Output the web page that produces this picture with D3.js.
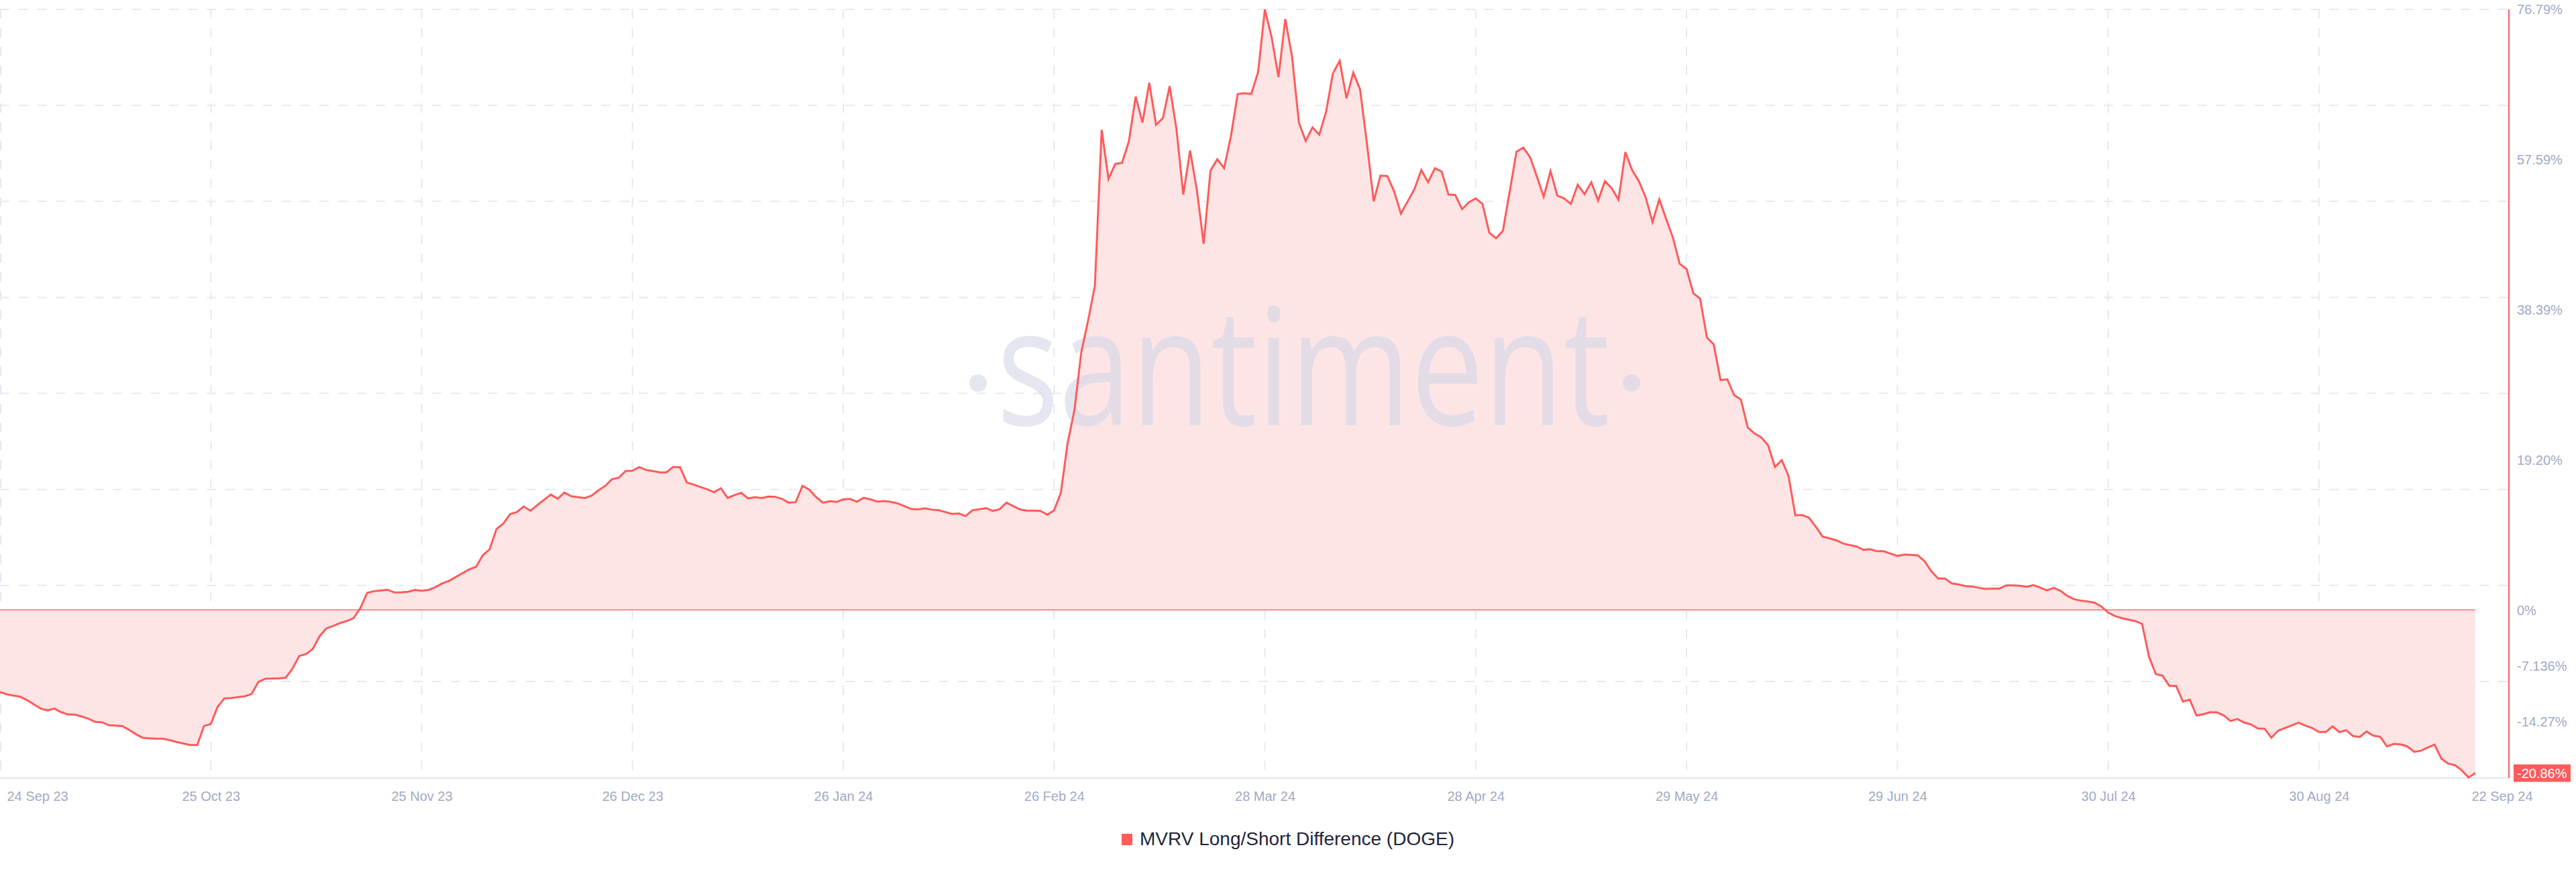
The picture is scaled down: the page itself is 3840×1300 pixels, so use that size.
<!DOCTYPE html>
<html><head><meta charset="utf-8">
<script src="https://cdn.jsdelivr.net/npm/d3@7"></script>
<style>body{margin:0;background:#fff;} svg{display:block;}</style>
</head><body>
<svg id="chart" width="3840" height="1300"></svg>
<script>
// ---------- DATA ----------
const seriesName = "MVRV Long/Short Difference (DOGE)";
const startDate = "2023-09-24";           // first daily point
const values = [
 -10.48,-10.77,-10.94,-11.1,-11.53,-12.09,-12.61,-12.84,-12.61,-13.07,
 -13.37,-13.37,-13.63,-13.89,-14.32,-14.35,-14.75,-14.78,-14.84,-15.34,
 -15.89,-16.35,-16.42,-16.45,-16.45,-16.65,-16.88,-17.08,-17.27,-17.27,
 -14.84,-14.58,-12.38,-11.3,-11.26,-11.13,-11.03,-10.74,-9.2,-8.8,
 -8.77,-8.74,-8.67,-7.52,-5.88,-5.65,-4.99,-3.35,-2.36,-2.04,
 -1.67,-1.41,-1.05,0.26,2.2,2.4,2.5,2.59,2.23,2.27,
 2.33,2.56,2.46,2.56,2.89,3.38,3.71,4.2,4.7,5.19,
 5.52,7.0,7.75,10.34,11.03,12.25,12.51,13.23,12.68,13.4,
 14.09,14.75,14.22,15.01,14.55,14.42,14.32,14.61,15.3,15.86,
 16.72,16.91,17.77,17.8,18.26,17.9,17.77,17.6,17.6,
 18.3,18.24,16.28,16.04,15.71,15.44,15.05,15.56,14.32,14.69,
 14.99,14.26,14.41,14.32,14.5,14.47,14.2,13.72,13.78,15.86,
 15.38,14.44,13.72,13.9,13.81,14.14,14.2,13.84,14.35,14.14,
 13.87,13.93,13.81,13.63,13.27,12.91,12.85,13.0,12.82,12.76,
 12.52,12.28,12.34,12.01,12.76,12.88,13.03,12.67,12.88,13.72,
 13.27,12.85,12.7,12.7,12.67,12.19,12.73,14.99,21.37,25.58,
 32.95,
 37.0,41.4,61.4,55.1,57.03,57.17,59.92,65.64,62.32,67.41,
 62.03,62.89,66.98,61.46,53.11,58.74,53.68,46.82,56.17,57.63,
 56.48,60.55,65.98,66.07,65.98,68.78,76.79,73.19,68.12,75.56,
 70.7,62.32,59.97,61.69,60.77,63.69,68.61,70.21,65.42,68.7,
 66.55,59.69,52.25,
 55.54,55.48,53.54,50.68,52.25,53.82,56.25,54.68,56.48,56.05,
 53.11,53.05,51.25,52.11,52.62,51.91,48.24,47.53,48.48,53.51,
 58.6,59.12,57.89,55.4,52.83,56.11,52.97,52.62,51.91,54.37,
 53.17,54.68,52.34,54.82,53.91,52.45,58.54,56.25,54.82,52.74,
 49.6,52.5,50.02,47.6,44.25,43.6,40.5,39.8,
 34.83,33.95,29.4,29.49,27.47,26.9,23.32,22.57,22.05,21.04,
 18.28,19.16,17.14,12.1,12.15,11.8,10.66,9.39,9.17,8.91,
 8.51,8.3,8.12,7.68,7.77,7.51,7.51,7.2,6.9,7.08,
 7.04,6.98,6.25,4.93,4.01,4.01,3.4,3.27,3.05,3.0,
 2.83,2.7,2.74,2.74,3.14,3.14,3.09,2.96,3.18,2.87,
 2.5,2.83,2.45,1.8,1.37,
 1.2,1.09,0.94,0.45,-0.34,-0.77,-1.04,-1.24,-1.42,-1.79,
 -5.96,-8.19,-8.41,-9.71,-9.71,-11.72,-11.46,-13.5,-13.33,-13.08,
 -13.1,-13.48,-14.2,-13.94,-14.4,-14.63,-15.15,-15.18,-16.33,-15.43,
 -15.09,-14.75,-14.4,-14.8,-15.09,-15.61,-15.61,-14.89,-15.61,-15.38,
 -16.12,-16.24,-15.55,-16.07,-16.21,-17.44,-17.13,-17.19,-17.44,-18.14,
 -17.99,-17.59,-17.22,-19.0,-19.64,-19.84,-20.5,-21.41,-20.86
];
const xTickDates = ["2023-09-24","2023-10-25","2023-11-25","2023-12-26","2024-01-26",
  "2024-02-26","2024-03-28","2024-04-28","2024-05-29","2024-06-29","2024-07-30","2024-08-30"];
const lastTickLabel = "22 Sep 24";
const yTickValues = [76.79, 57.59, 38.39, 19.20, 0, -7.136, -14.27];
const yTickLabels = ["76.79%","57.59%","38.39%","19.20%","0%","-7.136%","-14.27%"];
const yDomain = [-21.41, 76.79];
const lastLabel = "-20.86%";

// ---------- LAYOUT ----------
const W = 3840, H = 1300;
const plot = {left: 0, right: 3690, axisX: 3740, top: 14, bottom: 1159};
const RED = "#ff5b5b";
const GRID = "#e7e9f2";
const LABEL = "#a1aac5";
const FONT = "'Liberation Sans', Arial, sans-serif";

const parse = d3.utcParse("%Y-%m-%d");
const t0 = parse(startDate);
const data = values.map((v, i) => ({date: d3.utcDay.offset(t0, i), v}));
const tEnd = data[data.length - 1].date;

const x = d3.scaleUtc().domain([t0, tEnd]).range([plot.left, plot.right]);
const y = d3.scaleLinear().domain(yDomain).range([plot.bottom, plot.top]);

const svg = d3.select("#chart");
svg.append("rect").attr("width", W).attr("height", H).attr("fill", "#fff");

// horizontal grid (8 equal bands)
const gridYs = d3.range(8).map(k => plot.top + k * (plot.bottom - plot.top) / 8);
svg.append("g").selectAll("line").data(gridYs).join("line")
  .attr("x1", plot.left).attr("x2", plot.axisX)
  .attr("y1", d => d).attr("y2", d => d)
  .attr("stroke", GRID).attr("stroke-width", 2).attr("stroke-dasharray", "14,14");

// vertical grid at tick dates
const tickDates = xTickDates.map(parse);
svg.append("g").selectAll("line").data(tickDates).join("line")
  .attr("x1", d => x(d) + (x(d) === 0 ? 1 : 0)).attr("x2", d => x(d) + (x(d) === 0 ? 1 : 0))
  .attr("y1", plot.top).attr("y2", plot.bottom)
  .attr("stroke", GRID).attr("stroke-width", 2).attr("stroke-dasharray", "14,14");

// bottom axis line
svg.append("line").attr("x1", 0).attr("x2", plot.axisX)
  .attr("y1", plot.bottom + 1).attr("y2", plot.bottom + 1)
  .attr("stroke", "#e3e7f0").attr("stroke-width", 2);

// area
const area = d3.area().x(d => x(d.date)).y0(y(0)).y1(d => y(d.v));
svg.append("path").datum(data).attr("d", area).attr("fill", "#fde5e6");

// watermark
const wm = svg.append("g").attr("opacity", 0.6);
const wmText = wm.append("text")
  .attr("x", 1486).attr("y", 634)
  .attr("font-family", "'Open Sans', sans-serif").attr("font-size", 244)
  .attr("textLength", 914).attr("lengthAdjust", "spacingAndGlyphs")
  .attr("fill", "#d3d7e7").text("santiment");
wm.append("circle").attr("cx", 1486 - 28).attr("cy", 571).attr("r", 13).attr("fill", "#d3d7e7");
wm.append("circle").attr("cx", 1486 + 914 + 32).attr("cy", 571).attr("r", 13).attr("fill", "#d3d7e7");

// zero line
svg.append("line").attr("x1", x(t0)).attr("x2", x(tEnd))
  .attr("y1", y(0)).attr("y2", y(0))
  .attr("stroke", "#ff6d6d").attr("stroke-width", 1.5);

// series line
const line = d3.line().x(d => x(d.date)).y(d => y(d.v));
svg.append("path").datum(data).attr("d", line)
  .attr("fill", "none").attr("stroke", RED).attr("stroke-width", 3);

// right axis line
svg.append("line").attr("x1", plot.axisX).attr("x2", plot.axisX)
  .attr("y1", plot.top).attr("y2", plot.bottom + 1)
  .attr("stroke", RED).attr("stroke-width", 2);

// y labels
svg.append("g").selectAll("text").data(yTickValues).join("text")
  .attr("x", plot.axisX + 12).attr("y", d => y(d)).attr("dy", "0.36em")
  .attr("font-family", FONT).attr("font-size", 20).attr("fill", LABEL)
  .text((d, i) => yTickLabels[i]);

// last value badge
const lastV = data[data.length - 1].v;
svg.append("rect").attr("x", plot.axisX + 7).attr("y", y(lastV) - 13)
  .attr("width", 85).attr("height", 26).attr("fill", RED);
svg.append("text").attr("x", plot.axisX + 12).attr("y", y(lastV)).attr("dy", "0.36em")
  .attr("font-family", FONT).attr("font-size", 20).attr("fill", "#fff").text(lastLabel);

// x axis labels
const fmt = d3.utcFormat("%d %b %y");
const xAxis = d3.axisBottom(x).tickValues(tickDates).tickFormat(fmt).tickSize(0).tickPadding(0);
const gx = svg.append("g").attr("transform", `translate(0,${plot.bottom + 28})`).call(xAxis);
gx.select(".domain").remove();
gx.selectAll("text").attr("font-family", FONT).attr("font-size", 20).attr("fill", LABEL).attr("dy", "0.35em");
gx.selectAll(".tick").filter((d, i) => i === 0).select("text").attr("text-anchor", "start").attr("dx", 10);
svg.append("text").attr("x", x(tEnd) + 40).attr("y", plot.bottom + 28).attr("dy", "0.35em")
  .attr("text-anchor", "middle").attr("font-family", FONT).attr("font-size", 20).attr("fill", LABEL)
  .text(lastTickLabel);

// legend
const lg = svg.append("g");
const lgText = lg.append("text").attr("x", 27).attr("y", 1260)
  .attr("font-family", FONT).attr("font-size", 28).attr("fill", "#22253a").text(seriesName);
lg.append("rect").attr("x", 0).attr("y", 1243).attr("width", 16).attr("height", 17).attr("fill", RED);
const lgW = 27 + lgText.node().getComputedTextLength();
lg.attr("transform", `translate(${(W - lgW) / 2},0)`);
</script>
</body></html>
